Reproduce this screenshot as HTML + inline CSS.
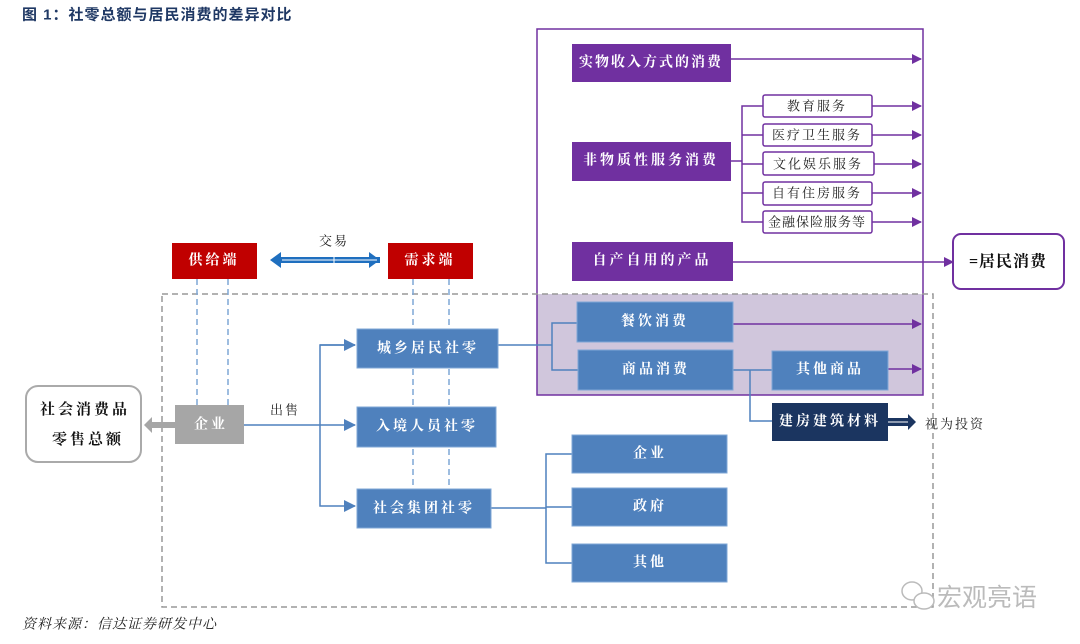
<!DOCTYPE html>
<html><head><meta charset="utf-8"><style>
html,body{margin:0;padding:0;background:#fff;}
svg{display:block;}
text{font-family:"Liberation Serif","Noto Serif CJK SC",serif;}
.w{fill:#fff;font-weight:bold;font-size:14px;text-anchor:middle;dominant-baseline:central;letter-spacing:3px;}
.k{fill:#222;font-size:13px;text-anchor:middle;dominant-baseline:central;letter-spacing:2px;}
</style></head><body>
<svg width="1080" height="644" viewBox="0 0 1080 644" xmlns="http://www.w3.org/2000/svg">
<defs>
<marker id="ap" markerWidth="10" markerHeight="10" refX="9" refY="5" orient="auto" markerUnits="userSpaceOnUse"><path d="M0,0 L10,5 L0,10z" fill="#7030a0"/></marker>
<marker id="ab" markerWidth="12" markerHeight="12" refX="11" refY="6" orient="auto" markerUnits="userSpaceOnUse"><path d="M0,0 L12,6 L0,12z" fill="#4f81bd"/></marker>
</defs>
<text x="22" y="15" style="font-family:'Liberation Sans','Noto Sans CJK SC',sans-serif;font-weight:bold;font-size:15px;fill:#1f3864;dominant-baseline:central;letter-spacing:1px">图 1：社零总额与居民消费的差异对比</text>

<rect x="537" y="294" width="386" height="101" fill="#d0c6dc"/>
<rect x="537" y="29" width="386" height="366" fill="none" stroke="#7030a0" stroke-width="1.5"/>
<rect x="162" y="294" width="771" height="313" fill="none" stroke="#999" stroke-width="1.5" stroke-dasharray="6,4"/>

<rect x="572" y="44" width="159" height="38" fill="#7030a0"/><text class="w" x="651" y="63" style="letter-spacing:2px">实物收入方式的消费</text>
<rect x="572" y="142" width="159" height="39" fill="#7030a0"/><text class="w" x="651" y="161">非物质性服务消费</text>
<rect x="572" y="242" width="161" height="39" fill="#7030a0"/><text class="w" x="652" y="261">自产自用的产品</text>
<g stroke="#7030a0" stroke-width="1.5" fill="none">
<line x1="731" y1="59" x2="921" y2="59" marker-end="url(#ap)"/>
<line x1="731" y1="161" x2="742" y2="161"/>
<path d="M763,106 H742 V222 H763"/>
<line x1="742" y1="135" x2="763" y2="135"/><line x1="742" y1="164" x2="763" y2="164"/><line x1="742" y1="193" x2="763" y2="193"/>
<line x1="872" y1="106" x2="921" y2="106" marker-end="url(#ap)"/>
<line x1="872" y1="135" x2="921" y2="135" marker-end="url(#ap)"/>
<line x1="874" y1="164" x2="921" y2="164" marker-end="url(#ap)"/>
<line x1="872" y1="193" x2="921" y2="193" marker-end="url(#ap)"/>
<line x1="872" y1="222" x2="921" y2="222" marker-end="url(#ap)"/>
<line x1="733" y1="262" x2="953" y2="262" marker-end="url(#ap)"/>
<line x1="733" y1="324" x2="921" y2="324" marker-end="url(#ap)"/>
<line x1="888" y1="369" x2="921" y2="369" marker-end="url(#ap)"/>
</g>
<g fill="#fff" stroke="#7030a0" stroke-width="1.5">
<rect x="763" y="95" width="109" height="22" rx="2"/><rect x="763" y="124" width="109" height="22" rx="2"/>
<rect x="763" y="152" width="111" height="23" rx="2"/><rect x="763" y="182" width="109" height="23" rx="2"/>
<rect x="763" y="211" width="109" height="22" rx="2"/>
</g>
<text class="k" x="817" y="106">教育服务</text><text class="k" x="817" y="135">医疗卫生服务</text>
<text class="k" x="818" y="164">文化娱乐服务</text><text class="k" x="817" y="193">自有住房服务</text>
<text class="k" x="817" y="222" style="letter-spacing:1px">金融保险服务等</text>
<rect x="953" y="234" width="111" height="55" rx="8" fill="#fff" stroke="#7030a0" stroke-width="2"/>
<text x="1008" y="262" style="font-weight:bold;font-size:16px;text-anchor:middle;dominant-baseline:central;fill:#111;letter-spacing:1px">=居民消费</text>

<rect x="172" y="243" width="85" height="36" fill="#c00000"/><text class="w" x="214" y="261">供给端</text>
<rect x="388" y="243" width="85" height="36" fill="#c00000"/><text class="w" x="430" y="261">需求端</text>
<text class="k" x="334" y="241">交易</text>
<path d="M270,260 L281,252 V257 H380 V263 H281 V268z" fill="#1f6fbf"/>
<path d="M380,260 L369,252 V257 H320 V263 H369 V268z" fill="#1f6fbf"/>
<line x1="282" y1="260" x2="377" y2="260" stroke="#fff" stroke-width="1"/>
<line x1="334" y1="255" x2="334" y2="265" stroke="#fff" stroke-width="1"/>

<g stroke="#7fa7d6" stroke-width="1.5" stroke-dasharray="6,4">
<line x1="197" y1="279" x2="197" y2="405"/><line x1="228" y1="279" x2="228" y2="405"/>
<line x1="413" y1="279" x2="413" y2="489"/><line x1="449" y1="279" x2="449" y2="489"/>
</g>

<rect x="26" y="386" width="115" height="76" rx="12" fill="#fff" stroke="#aaa" stroke-width="2"/>
<text x="85" y="410" style="font-weight:bold;font-size:15px;text-anchor:middle;dominant-baseline:central;fill:#111;letter-spacing:3px">社会消费品</text>
<text x="88" y="440" style="font-weight:bold;font-size:15px;text-anchor:middle;dominant-baseline:central;fill:#111;letter-spacing:3px">零售总额</text>
<path d="M144,425 L152,417 V422 H176 V428 H152 V433z" fill="#a6a6a6"/>
<rect x="175" y="405" width="69" height="39" fill="#a6a6a6"/><text class="w" x="211" y="425">企业</text>
<text class="k" x="285" y="410">出售</text>
<g stroke="#4f81bd" stroke-width="1.5" fill="none">
<line x1="244" y1="425" x2="355" y2="425" marker-end="url(#ab)"/>
<path d="M355,345 H320 V506 H355" marker-end="url(#ab)"/>
<line x1="320" y1="345" x2="355" y2="345" marker-end="url(#ab)"/>
<path d="M498,345 H552"/><path d="M577,323 H552 V370 H578"/>
<path d="M733,370 H772"/><path d="M750,370 V421 H772"/>
<path d="M491,508 H546"/><path d="M572,454 H546 V563 H572"/><line x1="546" y1="507" x2="572" y2="507"/>
</g>
<g fill="#4f81bd" stroke="#7fa7d6" stroke-width="1">
<rect x="357" y="329" width="141" height="39"/><rect x="357" y="407" width="139" height="40"/><rect x="357" y="489" width="134" height="39"/>
<rect x="577" y="302" width="156" height="40"/><rect x="578" y="350" width="155" height="40"/><rect x="772" y="351" width="116" height="39"/>
<rect x="572" y="435" width="155" height="38"/><rect x="572" y="488" width="155" height="38"/><rect x="572" y="544" width="155" height="38"/>
</g>
<text class="w" x="428" y="349">城乡居民社零</text><text class="w" x="427" y="427">入境人员社零</text><text class="w" x="424" y="509">社会集团社零</text>
<text class="w" x="655" y="322">餐饮消费</text><text class="w" x="656" y="370">商品消费</text><text class="w" x="830" y="370">其他商品</text>
<text class="w" x="650" y="454">企业</text><text class="w" x="650" y="507">政府</text><text class="w" x="650" y="563">其他</text>
<rect x="772" y="403" width="116" height="38" fill="#1b3560"/><text class="w" x="830" y="422">建房建筑材料</text>
<path d="M888,418 H908 V414 L916,422 L908,430 V426 H888z" fill="#1b3560"/>
<line x1="888" y1="422" x2="908" y2="422" stroke="#fff" stroke-width="1"/>
<text class="k" x="955" y="424">视为投资</text>

<text x="937" y="598" style="font-family:'Liberation Sans','Noto Sans CJK SC',sans-serif;font-size:25px;fill:#bbb;dominant-baseline:central">宏观亮语</text>
<ellipse cx="912" cy="591" rx="10" ry="9" fill="none" stroke="#bbb" stroke-width="1.5"/>
<ellipse cx="924" cy="601" rx="10" ry="8" fill="#fff" stroke="#bbb" stroke-width="1.5"/>
<text x="22" y="625" style="font-style:italic;font-size:14px;fill:#222;dominant-baseline:central;letter-spacing:1px">资料来源：信达证券研发中心</text>
</svg>
</body></html>
